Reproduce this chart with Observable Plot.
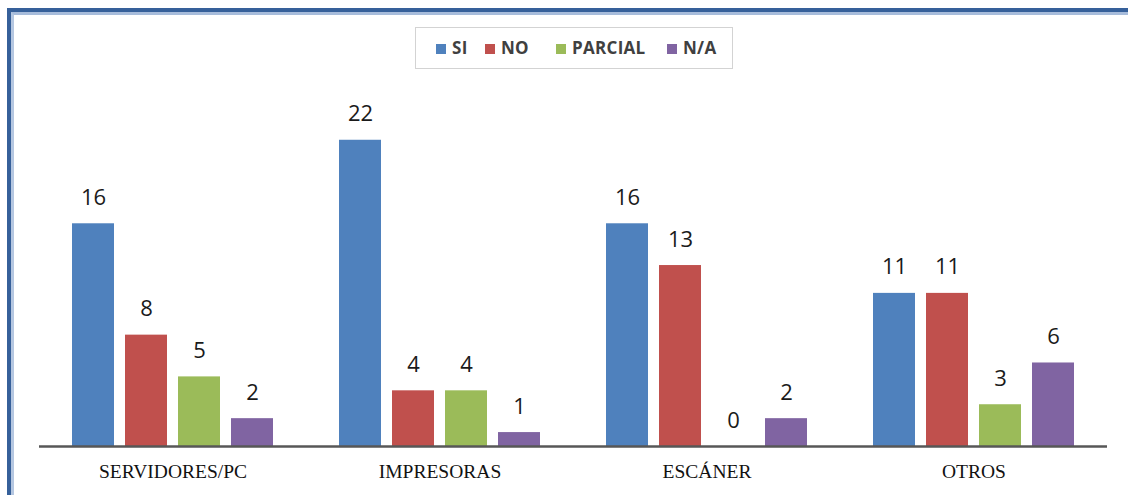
<!DOCTYPE html>
<html>
<head>
<meta charset="utf-8">
<script src="https://cdn.jsdelivr.net/npm/d3@7"></script>
<script src="https://cdn.jsdelivr.net/npm/@observablehq/plot@0.6"></script>
<style>
  html, body { margin: 0; padding: 0; background: #fff; }
  body { position: relative; width: 1128px; height: 495px; overflow: hidden; }
  .frame {
    position: absolute; left: 7px; top: 8px; width: 1125px; height: 484px;
    border-top: 4px solid #36609a; border-left: 4px solid #36609a;
    border-bottom: 1px solid #8eaed6;
  }
  .frame-inner {
    position: absolute; left: 11px; top: 12px; width: 1120px; height: 480px;
    border-top: 3px solid #a7bcdb; border-left: 3px solid #b5c7e1;
  }
  .legend {
    position: absolute; left: 415px; top: 27px; width: 316px; height: 40px;
    border: 1px solid #d3d3d3; background: #fff;
    font-family: "Open Sans", sans-serif; font-weight: 700; font-size: 17px;
    color: #404040; letter-spacing: 0.3px;
  }
  .legend .item { position: absolute; top: 9px; line-height: 22px; white-space: nowrap; }
  .legend .sw { display: inline-block; width: 10px; height: 10px; margin-right: 6px; vertical-align: 0px; }
  #chart { position: absolute; left: 0; top: 75px; }
</style>
</head>
<body>
<div class="frame"></div>
<div class="frame-inner"></div>
<div class="legend" id="legend"></div>
<div id="chart"></div>
<script>
// Equipment categories and answer series
const categories = ["SERVIDORES/PC", "IMPRESORAS", "ESCÁNER", "OTROS"];
const series = ["SI", "NO", "PARCIAL", "N/A"];
const colors = ["#4f81bd", "#c0504d", "#9bbb59", "#8064a2"];

// Counts per series, one value per category
const siValues      = [16, 22, 16, 11];
const noValues      = [8, 4, 13, 11];
const parcialValues = [5, 4, 0, 3];
const naValues      = [2, 1, 2, 6];

const valuesBySeries = [siValues, noValues, parcialValues, naValues];
const data = [];
categories.forEach((cat, i) => {
  series.forEach((s, j) => {
    data.push({ category: cat, series: s, value: valuesBySeries[j][i] });
  });
});

// Legend row
const legendLeft = [20, 69, 140, 251];
const legend = document.getElementById("legend");
series.forEach((s, j) => {
  const item = document.createElement("div");
  item.className = "item";
  item.style.left = legendLeft[j] + "px";
  const sw = document.createElement("span");
  sw.className = "sw";
  sw.style.background = colors[j];
  item.appendChild(sw);
  item.appendChild(document.createTextNode(s));
  legend.appendChild(item);
});

const chart = Plot.plot({
  width: 1128,
  height: 420,
  marginLeft: 37,
  marginRight: 20,
  marginTop: 23,
  marginBottom: 49,
  fx: { domain: categories, padding: 0, label: null },
  x: { domain: series, axis: null, paddingInner: 0.21, paddingOuter: 0.61 },
  y: { domain: [0, 25], axis: null },
  color: { domain: series, range: colors },
  style: { background: "transparent", overflow: "visible" },
  marks: [
    Plot.barY(data, { fx: "category", x: "series", y: "value", fill: "series" }),
    Plot.ruleY([0], { stroke: "#575757", strokeWidth: 2.5 }),
    Plot.text(data, {
      fx: "category", x: "series", y: "value", text: "value",
      dy: -26, lineAnchor: "middle",
      fontSize: 22, fill: "#1a1a1a",
      fontFamily: "'Open Sans', sans-serif"
    }),
    Plot.axisFx({
      anchor: "bottom", tickSize: 0, tickPadding: 18, label: null,
      fontSize: 19.5, fontFamily: "'Liberation Serif', 'Times New Roman', serif",
      fill: "#111"
    })
  ]
});
document.getElementById("chart").appendChild(chart);
</script>
</body>
</html>
